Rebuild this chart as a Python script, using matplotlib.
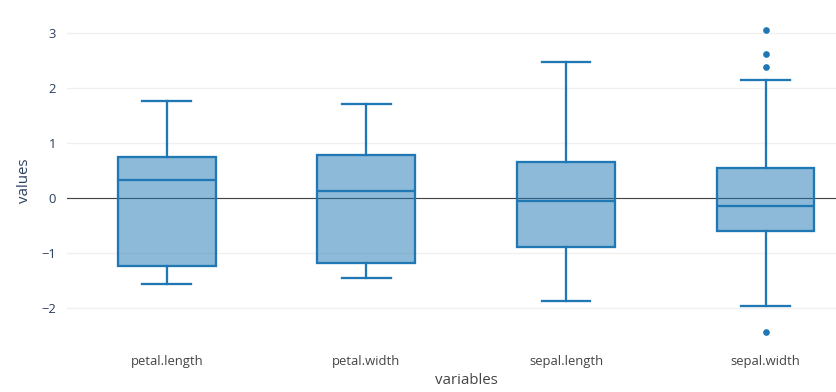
import matplotlib
matplotlib.use("Agg")
import matplotlib.pyplot as plt

plt.rcParams["font.family"] = ["Open Sans", "DejaVu Sans"]

variables = ["petal.length", "petal.width", "sepal.length", "sepal.width"]
whisker_low = [-1.56, -1.44, -1.86, -1.96]
q1 = [-1.22, -1.18, -0.89, -0.59]
medians = [0.33, 0.13, -0.05, -0.13]
q3 = [0.76, 0.79, 0.67, 0.56]
whisker_high = [1.78, 1.71, 2.48, 2.16]
outliers = [[], [], [], [3.07, 2.62, 2.39, -2.43]]
y_ticks = [-2, -1, 0, 1, 2, 3]

BLUE = "#1f77b4"
TEXT = "#2a3f5f"
W, H = 836, 392

stats = []
for i, name in enumerate(variables):
    stats.append({"label": name, "whislo": whisker_low[i], "q1": q1[i], "med": medians[i],
                  "q3": q3[i], "whishi": whisker_high[i], "fliers": outliers[i]})

fig = plt.figure(figsize=(W / 100, H / 100), dpi=100)
ax = fig.add_axes([67 / W, 1 - 345 / H, (W - 67) / W, 325 / H])

line = dict(color=BLUE, linewidth=1.65)
ax.axhline(0, color="#444444", linewidth=0.8, zorder=1)
ax.bxp(stats, positions=range(4), widths=0.49, patch_artist=True,
       boxprops=dict(facecolor=(0.122, 0.467, 0.706, 0.5), edgecolor=BLUE, linewidth=1.65),
       medianprops=line, whiskerprops=line, capprops=line, capwidths=0.245,
       flierprops=dict(marker="o", markersize=4.8, markerfacecolor=BLUE, markeredgecolor=BLUE,
                       markeredgewidth=0),
       zorder=3)

ax.set_xlim(-0.5, 3.353)
ax.set_ylim(-2.665, 3.245)
ax.set_yticks(y_ticks)
ax.set_yticklabels([str(v).replace("-", "\u2212") for v in y_ticks])
ax.set_xticks(range(4))
ax.set_xticklabels(variables)
ax.grid(axis="y", color="#f0f0f0", linewidth=1)
ax.set_axisbelow(True)
ax.tick_params(axis="y", length=0, pad=8, labelsize=9.4, labelcolor=TEXT)
ax.tick_params(axis="x", length=0, pad=7, labelsize=9.4, labelcolor="#444444")
for spine in ax.spines.values():
    spine.set_visible(False)

fig.text(466 / W, 1 - 380 / H, "variables", ha="center", va="center", fontsize=10.8, color="#444444")
fig.text(24 / W, 1 - 181 / H, "values", ha="center", va="center", rotation=90, fontsize=10.8, color=TEXT)

fig.savefig("out.png", dpi=100)
